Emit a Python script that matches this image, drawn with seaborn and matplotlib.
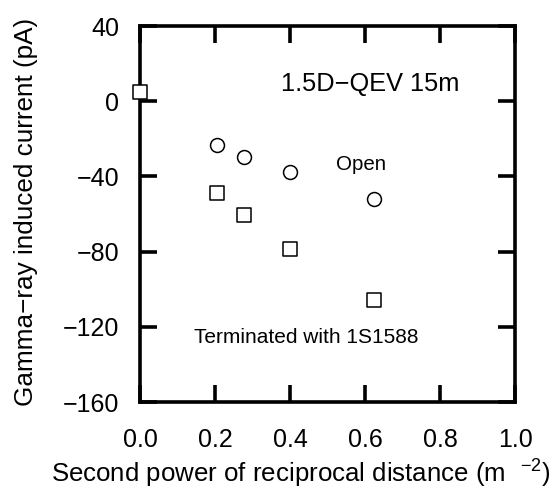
import numpy as np
import pandas as pd
import matplotlib
matplotlib.use("Agg")
import matplotlib.pyplot as plt
import seaborn as sns

# data
x_open = [0.204, 0.277, 0.400, 0.625]
y_open = [-23.5, -29.5, -37.5, -52.0]
x_term = [0.0, 0.204, 0.277, 0.400, 0.625]
y_term = [5.0, -49.0, -60.5, -78.5, -106.0]
x_ticks = [0.0, 0.2, 0.4, 0.6, 0.8, 1.0]
y_ticks = [40, 0, -40, -80, -120, -160]

sns.set_style("ticks")
plt.rcParams['font.family'] = ['Liberation Sans', 'DejaVu Sans']
plt.rcParams['mathtext.fontset'] = 'custom'
plt.rcParams['mathtext.rm'] = 'Liberation Sans'
plt.rcParams['text.color'] = 'black'
plt.rcParams['axes.labelcolor'] = 'black'

df_open = pd.DataFrame({"x": x_open, "y": y_open})
df_term = pd.DataFrame({"x": x_term, "y": y_term})

fig = plt.figure(figsize=(5.52, 4.88), dpi=100)
ax = fig.add_axes([0.2536, 0.1762, 0.6795, 0.7705])

sns.scatterplot(data=df_open, x="x", y="y", marker="o", s=100,
                facecolor="white", edgecolor="black", linewidth=1.1,
                ax=ax, clip_on=False, zorder=5)
sns.scatterplot(data=df_term, x="x", y="y", marker="s", s=115,
                facecolor="white", edgecolor="black", linewidth=1.1,
                ax=ax, clip_on=False, zorder=5)

ax.set_xlim(0, 1.0)
ax.set_ylim(-160, 40)
ax.set_xticks(x_ticks)
ax.set_yticks(y_ticks)
ax.set_xticklabels([f"{v:.1f}" for v in x_ticks])
ax.set_yticklabels([str(v).replace("-", "\u2212") for v in y_ticks])

for sp in ax.spines.values():
    sp.set_linewidth(2.6)
    sp.set_color("black")
ax.tick_params(direction="in", top=True, right=True, length=12.5, width=2.6,
               labelsize=18, colors="black")
ax.tick_params(axis="x", pad=19)
ax.tick_params(axis="y", pad=15)

ax.set_xlabel("Second power of reciprocal distance (m  $^{\\mathregular{\u22122}}$)",
              fontsize=18.6, va="baseline")
ax.set_ylabel("Gamma\u2212ray induced current (pA)", fontsize=18.8, va="baseline")
ax.xaxis.set_label_coords(0.428, -0.212)
ax.yaxis.set_label_coords(-0.2853, 0.5066)

ax.text(0.613, 0.826, "1.5D\u2212QEV 15m", transform=ax.transAxes,
        fontsize=18.3, ha="center", va="baseline")
ax.text(0.589, 0.617, "Open", transform=ax.transAxes,
        fontsize=14.8, ha="center", va="baseline")
ax.text(0.4445, 0.158, "Terminated with 1S1588", transform=ax.transAxes,
        fontsize=15, ha="center", va="baseline")

fig.savefig("out.png", dpi=100)
